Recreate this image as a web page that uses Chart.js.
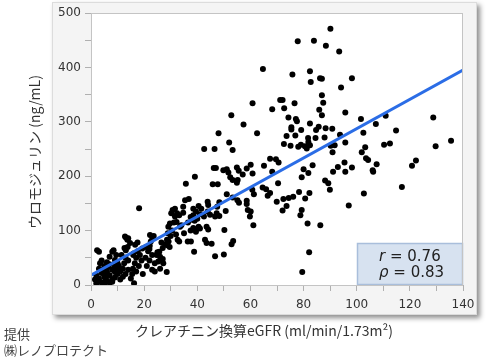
<!DOCTYPE html>
<html>
<head>
<meta charset="utf-8">
<script src="https://cdn.jsdelivr.net/npm/chart.js@4"></script>
<style>
html, body { margin: 0; padding: 0; background: #fff; }
</style>
</head>
<body>
<canvas id="myChart" width="500" height="360"></canvas>
<script>
// eGFR (x) and uromodulin (y)
const egfr = [
  2,3,4,5,6,7,8,3,5,7,9,10,4,6,8,3,5,7,9,10,3,8,8.5,9,7,9.5,6,2,4,10,6,1.5,8,9,2.3,3.4,2.5,5.5,4.5,6.5,
  11,12,13,14,12.5,13,14,11.5,12.6,13.1,13.8,14.7,13.2,13.7,12.8,14,15.8,16.5,17,16,17.6,15.5,16.2,16.6,15.9,18.1,19.3,18.4,17,18,19,20.7,11,19.5,15,10.5,12,17.5,
  22,22.1,22.5,23.1,22.2,23.6,21,22,23,24,25,24.7,25.7,26,25.3,27.2,28.5,26,23,24,27,28.6,28,29.2,28.7,29.6,28.9,30,29.7,29.1,27,26.5,21.5,20.5,
  31.2,32.2,33.5,32,32.6,33.2,34.7,34.7,32.4,31.6,33.2,31.6,30.7,30.2,35.4,35.7,36.8,36.4,37.6,38.8,36.5,37.5,38,39,38.5,40,37.5,38.5,39.5,40.5,39,39.1,38.5,39.5,40.5,41,34,30.5,35,
  41,43.5,44.1,42.9,43.5,45.4,46.7,50,42.5,43.9,44.8,43.9,44.1,45.8,47.7,48.3,47.5,47.3,48.3,46.7,50.7,50.2,46.2,47,49.8,42.6,46.5,48,41.5,
  51.1,51.7,52.4,53.3,54.9,55.6,57.1,55.2,54.9,51.1,53.3,55.1,55.7,58.6,58.6,59,53.5,52.9,52,53.3,52.8,57.4,58.6,59.8,
  60.1,60.8,60.7,61.3,60.1,61.1,62.5,60.8,64.7,64.6,65.9,67.4,66.5,65.1,67.4,69.6,70.6,68.2,68.2,70.4,69.9,
  71.2,72.1,72.7,76.6,74.3,77.1,77.5,75.4,75.4,79.1,73.6,76.9,72.6,75.1,78,79,77.8,75.8,72.4,74.4,76.1,72.1,73.6,79.3,78.8,78.3,79.5,80,79.3,
  83.9,88.4,82.4,82.7,86.2,86.9,86.9,87.4,85.9,86.9,82.4,85.7,84.7,88.3,81.7,84.5,87.9,81.8,82.4,81.2,81.8,83.4,88.1,89.3,89.9,82.2,80.6,81.5,86.3,82.1,80.5,
  90.1,93.4,98.2,94.1,95.7,90.8,93.7,95.7,90.2,91.7,90.9,95.4,92.9,91.1,95.7,98.2,97,
  101.6,110.9,128.8,107.2,102.5,114.8,103.2,110.3,112.5,129.7,135.5,101.9,103.5,104.3,107.5,106,106.2,122.3,120.8,102.7,117
];
const uromodulin = [
  3,7,5,3,8,4,6,12,15,18,14,20,22,25,28,30,35,38,24,30,61,61,64,46,52,55,20,18,45,40,42,10,10,34,64,40,5,12,28,33,
  25,30,20,28,40,50,45,55,68,64,70,77,87,83,89,86,30,40,50,58,62,20,3,74,55,141,67,55,25,35,45,70,10,20,12,35,15,78,
  66,72,80,86,92,90,35,45,55,40,60,55,61,52,43,40,24,30,28,25,68,83,75,80,73,70,95,90,113,107,48,78,62,50,
  115,116,107,93,83,80,144,133,132,126,128,140,138,132,156,186,158,80,80,61,115,125,120,118,128,122,100,105,98,107,102,199,140,135,145,130,110,100,95,
  104,107,102,83,77,76,53,56,126,135,129,153,147,185,185,152,144,132,127,126,136,101,215,215,211,250,250,279,140,
  213,207,198,193,216,210,203,193,188,167,161,156,151,155,149,138,81,75,262,248,312,295,214,126,
  221,205,175,167,135,110,279,334,397,179,176,169,164,219,232,231,225,208,323,187,153,
  340,340,325,334,308,305,301,290,286,285,274,275,259,256,254,258,448,387,158,160,162,137,145,138,128,171,24,213,198,
  449,440,393,373,380,379,349,335,322,312,297,291,285,288,270,270,271,263,257,251,206,220,192,187,175,169,159,113,110,60,255,
  471,429,380,363,317,287,276,262,256,257,244,225,217,208,208,216,146,
  305,311,308,296,280,284,253,258,260,255,265,244,233,230,222,211,208,229,219,168,180
];
// fitted line end points
const fitX = [0, 140];
const fitY = [18, 395];
const stats = [["r", " = 0.76"], ["ρ", " = 0.83"]];

const xTitle = "クレアチニン換算eGFR (ml/min/1.73m²)";
const yTitle = "ウロモジュリン (ng/mL)";
const credit = ["提供", "㈱レノプロテクト"];

const tickFont = { family: "DejaVu Sans", size: 12 };

const panel = {
  id: "panel",
  beforeDraw(chart) {
    const c = chart.ctx, a = chart.chartArea;
    c.save();
    c.shadowColor = "rgba(0,0,0,0.45)";
    c.shadowBlur = 5;
    c.shadowOffsetX = 3;
    c.shadowOffsetY = 3;
    c.fillStyle = "#f4f4f4";
    c.fillRect(a.left - 39, 2, a.right - a.left + 53, a.bottom + 28);
    c.restore();
    c.save();
    c.strokeStyle = "#dcdcdc";
    c.strokeRect(a.left - 38.5, 2.5, a.right - a.left + 52, a.bottom + 27);
    c.fillStyle = "#fff";
    c.fillRect(a.left, a.top, a.right - a.left, a.bottom - a.top);
    c.restore();
  },
  afterDatasetsDraw(chart) {
    const c = chart.ctx, a = chart.chartArea;
    // stats box
    const w = 106, h = 42;
    c.save();
    c.fillStyle = "#d7e2f0";
    c.strokeStyle = "#a9bedb";
    c.lineWidth = 1.5;
    c.fillRect(a.right - w, a.bottom - h, w, h);
    c.strokeRect(a.right - w + 0.5, a.bottom - h + 0.5, w - 1, h - 1);
    c.fillStyle = "#222";
    c.textBaseline = "middle";
    stats.forEach((s, i) => {
      const y = a.bottom - h + 14 + i * 16;
      let x = a.right - w + 22;
      c.font = "italic 15px 'DejaVu Sans'";
      c.fillText(s[0], x, y);
      x += c.measureText(s[0]).width;
      c.font = "15px 'DejaVu Sans'";
      c.fillText(s[1], x, y);
    });
    // plot frame
    c.strokeStyle = "#c4c4c4";
    c.lineWidth = 1;
    c.strokeRect(a.left + 0.5, a.top + 0.5, a.right - a.left - 1, a.bottom - a.top);
    c.restore();
  },
  afterDraw(chart) {
    const c = chart.ctx;
    c.save();
    c.fillStyle = "#333";
    c.font = "14px 'Noto Sans CJK JP'";
    c.textAlign = "center";
    c.textBaseline = "middle";
    c.fillText(xTitle, 264, 331);
    c.translate(35, 152);
    c.rotate(-Math.PI / 2);
    c.fillText(yTitle, 0, 0);
    c.restore();
    c.save();
    c.fillStyle = "#444";
    c.font = "13px 'Noto Sans CJK JP'";
    c.textBaseline = "middle";
    c.fillText(credit[0], 4, 334);
    c.fillText(credit[1], 4, 350);
    c.restore();
  }
};

const ctx = document.getElementById("myChart").getContext("2d");

const config = {
  type: "scatter",
  data: {
    datasets: [
      {
        data: egfr.map((x, i) => ({ x: x, y: uromodulin[i] })),
        backgroundColor: "#000",
        borderColor: "#000",
        pointRadius: 3,
        borderWidth: 0,
        order: 2
      },
      {
        type: "line",
        data: fitX.map((x, i) => ({ x: x, y: fitY[i] })),
        borderColor: "#2b6de6",
        borderWidth: 3,
        pointRadius: 0,
        fill: false,
        order: 1
      }
    ]
  },
  options: {
    responsive: false,
    animation: false,
    layout: { padding: { top: 13, right: 37, bottom: 45, left: 0 } },
    plugins: { legend: { display: false }, tooltip: { enabled: false } },
    scales: {
      x: {
        type: "linear",
        min: 0,
        max: 140,
        afterFit: (s) => { s.height = 30; },
        border: { color: "#b0b0b0" },
        grid: { drawOnChartArea: false, tickLength: 6, color: "#b0b0b0" },
        ticks: {
          stepSize: 10,
          autoSkip: false,
          maxRotation: 0,
          padding: 7,
          color: "#333",
          font: tickFont,
          callback: (v) => (v % 20 === 0 ? v : "")
        }
      },
      y: {
        min: 0,
        max: 500,
        afterFit: (s) => { s.width = 91; },
        border: { color: "#b0b0b0" },
        grid: { drawOnChartArea: false, tickLength: 6, color: "#b0b0b0" },
        ticks: {
          stepSize: 50,
          autoSkip: false,
          padding: 4,
          color: "#333",
          font: tickFont,
          callback: (v) => (v % 100 === 0 ? v : "")
        }
      }
    }
  },
  plugins: [panel]
};

const myChart = new Chart(ctx, config);
</script>
</body>
</html>
